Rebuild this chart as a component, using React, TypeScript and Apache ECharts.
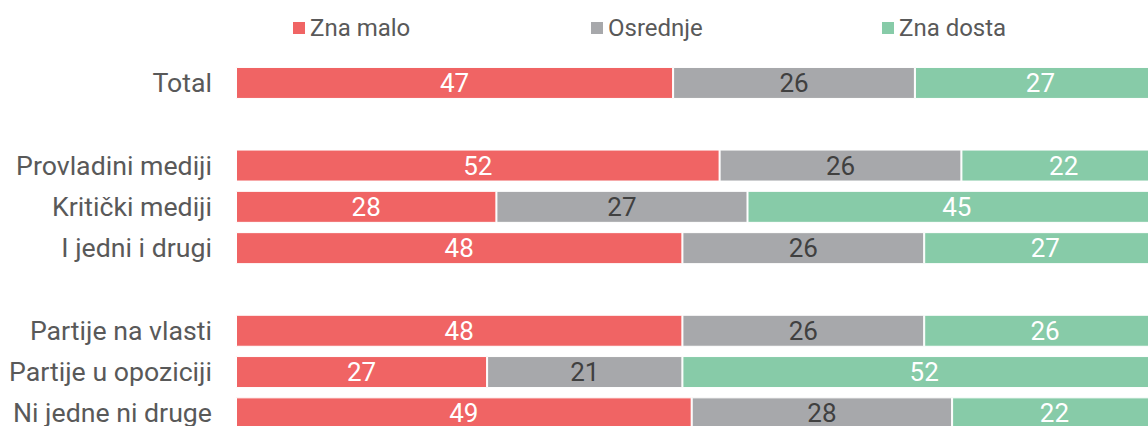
import React, { useEffect, useRef } from "react";
import * as echarts from "echarts";

const categories = [
  "Total",
  "",
  "Provladini mediji",
  "Kritički mediji",
  "I jedni i drugi",
  " ",
  "Partije na vlasti",
  "Partije u opoziciji",
  "Ni jedne ni druge",
];
const znaMalo = [47, null, 52, 28, 48, null, 48, 27, 49];
const osrednje = [26, null, 26, 27, 26, null, 26, 21, 28];
const znaDosta = [27, null, 22, 45, 27, null, 26, 52, 22];
const seriesNames = ["Zna malo", "Osrednje", "Zna dosta"];
const colors = ["#F06464", "#A7A8AB", "#87CBA8"];
const labelColors = ["#FFFFFF", "#404040", "#FFFFFF"];
const legendLefts = [291, 589, 880];

export default function App() {
  const ref = useRef<HTMLDivElement>(null);
  useEffect(() => {
    if (!ref.current) return;
    const chart = echarts.init(ref.current, null, { renderer: "svg" });
    const data = [znaMalo, osrednje, znaDosta];
    chart.setOption({
      animation: false,
      textStyle: { fontFamily: "Roboto" },
      legend: seriesNames.map((n, i) => ({
        data: [n],
        left: legendLefts[i],
        top: 16,
        padding: 0,
        itemWidth: 14,
        itemHeight: 14,
        itemGap: 5,
        icon: "rect",
        textStyle: { fontSize: 24, color: "#595959", fontFamily: "Roboto", padding: [0, 0, 0, -1] },
      })),
      grid: { left: 236, right: 0, top: 62.3, bottom: 0, containLabel: false },
      xAxis: {
        type: "value",
        min: 0,
        max: 100,
        show: false,
      },
      yAxis: {
        type: "category",
        data: categories,
        inverse: true,
        axisLine: { show: false },
        axisTick: { show: false },
        splitLine: { show: false },
        axisLabel: {
          fontSize: 26.7,
          color: "#595959",
          fontFamily: "Roboto",
          margin: 24,
        },
      },
      series: seriesNames.map((n, i) => ({
        name: n,
        type: "bar",
        stack: "total",
        data: data[i],
        barWidth: 32,
        itemStyle: { color: colors[i], borderColor: "#FFFFFF", borderWidth: 1 },
        label: {
          show: true,
          position: "inside",
          color: labelColors[i],
          fontSize: 26,
          fontFamily: "Roboto",
        },
      })),
    });
    return () => chart.dispose();
  }, []);
  return (
    <div style={{ position: "absolute", left: 0, top: 0, width: 1148, height: 426, overflow: "hidden" }}>
      <div ref={ref} style={{ width: 1166, height: 434 }} />
    </div>
  );
}
